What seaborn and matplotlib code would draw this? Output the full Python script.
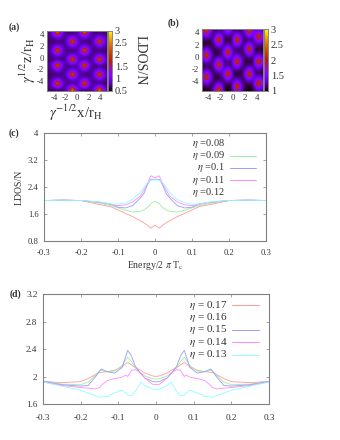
import numpy as np
import pandas as pd
import matplotlib
matplotlib.use('Agg')
import matplotlib.pyplot as plt
import seaborn as sns

# ─── Panel (a) rows: vortex sites at columns 3,12 (P) and 8,17 (Q) ────────────
P0 = [.72, .85, 1.45, 2.8, 1.45, .85, .72, .68, .68, .72, .85, 1.45, 2.8, 1.45, .85, .72, .68, .68, .68, .68]
Q0 = [.68, .68, .68, .68, .68, .72, .85, 1.45, 2.8, 1.45, .85, .72, .68, .68, .72, .85, 1.45, 2.8, 1.45, .85]
PN = [.7, .8, 1.05, 1.45, 1.05, .8, .72, .8, .85, .8, .8, 1.05, 1.45, 1.05, .8, .72, .8, .85, .8, .72]
QN = [.68, .72, .8, .85, .8, .72, .8, 1.05, 1.45, 1.05, .8, .8, .85, .8, .72, .8, 1.05, 1.45, 1.05, .8]
PQ = [.7, .8, 1.05, 1.45, 1.05, .8, .8, 1.05, 1.45, 1.05, .8, 1.05, 1.45, 1.05, .8, .8, 1.05, 1.45, 1.05, .8]
ldos_a = [P0, PN, QN, Q0, QN, PN, P0, PN, QN, Q0, PQ, P0, PN, QN, Q0, QN, PN, P0, PQ, Q0]

# ─── Panel (b) map ────────────────────────────────────────────────────────────
ldos_b = [
    [1.65, 2.6, 1.65, 1.2, 1.1, 1.2, 1.15, 1.4, 2.0, 1.4, 1.1, 1.2, 1.1, 1.2, 1.65, 2.6, 1.65, 1.25, 1.4, 1.25],
    [1.4, 2.0, 1.4, 1.15, 1.25, 1.4, 1.25, 1.25, 1.4, 1.25, 1.25, 1.4, 1.25, 1.15, 1.4, 2.0, 1.4, 1.4, 2.0, 1.4],
    [1.25, 1.4, 1.25, 1.15, 1.4, 2.0, 1.4, 1.1, 1.2, 1.1, 1.4, 2.0, 1.4, 1.15, 1.25, 1.4, 1.25, 1.65, 2.6, 1.65],
    [1.1, 1.2, 1.1, 1.2, 1.65, 2.6, 1.65, 1.03, 1.05, 1.03, 1.65, 2.6, 1.65, 1.2, 1.1, 1.2, 1.1, 1.4, 2.0, 1.4],
    [1.03, 1.05, 1.03, 1.15, 1.4, 2.0, 1.4, 1.1, 1.2, 1.1, 1.4, 2.0, 1.4, 1.15, 1.25, 1.4, 1.25, 1.25, 1.4, 1.25],
    [1.1, 1.2, 1.1, 1.1, 1.25, 1.4, 1.25, 1.25, 1.4, 1.25, 1.25, 1.4, 1.25, 1.15, 1.4, 2.0, 1.4, 1.1, 1.2, 1.1],
    [1.25, 1.4, 1.25, 1.1, 1.1, 1.2, 1.15, 1.4, 2.0, 1.4, 1.1, 1.2, 1.1, 1.2, 1.65, 2.6, 1.65, 1.03, 1.05, 1.03],
    [1.4, 2.0, 1.4, 1.15, 1.03, 1.05, 1.2, 1.65, 2.6, 1.65, 1.1, 1.2, 1.1, 1.15, 1.4, 2.0, 1.4, 1.1, 1.2, 1.1],
    [1.65, 2.6, 1.65, 1.2, 1.1, 1.2, 1.15, 1.4, 2.0, 1.4, 1.25, 1.4, 1.25, 1.1, 1.25, 1.4, 1.25, 1.25, 1.4, 1.25],
    [1.4, 2.0, 1.4, 1.15, 1.25, 1.4, 1.25, 1.25, 1.4, 1.25, 1.4, 2.0, 1.4, 1.15, 1.1, 1.2, 1.1, 1.4, 2.0, 1.4],
    [1.25, 1.4, 1.25, 1.15, 1.4, 2.0, 1.4, 1.1, 1.2, 1.1, 1.65, 2.6, 1.65, 1.2, 1.03, 1.05, 1.03, 1.65, 2.6, 1.65],
    [1.1, 1.2, 1.1, 1.2, 1.65, 2.6, 1.65, 1.1, 1.2, 1.1, 1.4, 2.0, 1.4, 1.15, 1.1, 1.2, 1.1, 1.4, 2.0, 1.4],
    [1.1, 1.2, 1.1, 1.15, 1.4, 2.0, 1.4, 1.25, 1.4, 1.25, 1.25, 1.4, 1.25, 1.1, 1.25, 1.4, 1.25, 1.25, 1.4, 1.25],
    [1.25, 1.4, 1.25, 1.1, 1.25, 1.4, 1.25, 1.4, 2.0, 1.4, 1.1, 1.2, 1.1, 1.15, 1.4, 2.0, 1.4, 1.1, 1.2, 1.1],
    [1.4, 2.0, 1.4, 1.15, 1.1, 1.2, 1.2, 1.65, 2.6, 1.65, 1.03, 1.05, 1.03, 1.2, 1.65, 2.6, 1.65, 1.1, 1.2, 1.1],
    [1.65, 2.6, 1.65, 1.2, 1.03, 1.05, 1.15, 1.4, 2.0, 1.4, 1.1, 1.2, 1.1, 1.15, 1.4, 2.0, 1.4, 1.25, 1.4, 1.25],
    [1.4, 2.0, 1.4, 1.15, 1.1, 1.2, 1.1, 1.25, 1.4, 1.25, 1.25, 1.4, 1.25, 1.1, 1.25, 1.4, 1.25, 1.4, 2.0, 1.4],
    [1.25, 1.4, 1.25, 1.1, 1.25, 1.4, 1.25, 1.1, 1.2, 1.1, 1.4, 2.0, 1.4, 1.15, 1.1, 1.2, 1.1, 1.65, 2.6, 1.65],
    [1.1, 1.2, 1.1, 1.15, 1.4, 2.0, 1.4, 1.03, 1.05, 1.03, 1.65, 2.6, 1.65, 1.2, 1.03, 1.05, 1.03, 1.4, 2.0, 1.4],
    [1.03, 1.05, 1.03, 1.2, 1.65, 2.6, 1.65, 1.02, 1.03, 1.02, 1.4, 2.0, 1.4, 1.15, 1.02, 1.03, 1.02, 1.25, 1.4, 1.25],
]

# ─── Panel (c) curves ─────────────────────────────────────────────────────────
energy_c = [-0.3, -0.25, -0.2, -0.15, -0.12, -0.1, -0.09, -0.08, -0.06, -0.04, -0.03, -0.02, -0.012, -0.01, 0,
            0.01, 0.012, 0.02, 0.03, 0.04, 0.06, 0.08, 0.09, 0.1, 0.12, 0.15, 0.2, 0.25, 0.3]
eta_008 = [2.0, 2.01, 2.0, 1.88, 1.82, 1.72, 1.67, 1.62, 1.52, 1.4, 1.34, 1.26, 1.18, 1.19, 1.27,
           1.19, 1.18, 1.26, 1.34, 1.4, 1.52, 1.62, 1.67, 1.72, 1.82, 1.88, 2.0, 2.01, 2.0]
eta_009 = [2.0, 2.01, 2.0, 1.92, 1.85, 1.78, 1.75, 1.71, 1.66, 1.68, 1.72, 1.8, 1.9, 1.92, 1.98,
           1.92, 1.9, 1.8, 1.72, 1.68, 1.66, 1.71, 1.75, 1.78, 1.85, 1.92, 2.0, 2.01, 2.0]
eta_010 = [2.0, 2.01, 2.0, 1.95, 1.9, 1.8, 1.79, 1.78, 1.85, 2.07, 2.21, 2.48, 2.62, 2.63, 2.63,
           2.63, 2.62, 2.48, 2.21, 2.07, 1.85, 1.78, 1.79, 1.8, 1.9, 1.95, 2.0, 2.01, 2.0]
eta_011 = [2.0, 2.01, 2.0, 1.95, 1.88, 1.85, 1.86, 1.87, 1.96, 2.13, 2.31, 2.51, 2.72, 2.73, 2.67,
           2.73, 2.72, 2.51, 2.31, 2.13, 1.96, 1.87, 1.86, 1.85, 1.88, 1.95, 2.0, 2.01, 2.0]
eta_012 = [2.0, 2.01, 2.0, 1.96, 1.9, 1.89, 1.91, 1.93, 2.03, 2.24, 2.39, 2.53, 2.59, 2.6, 2.61,
           2.6, 2.59, 2.53, 2.39, 2.24, 2.03, 1.93, 1.91, 1.89, 1.9, 1.96, 2.0, 2.01, 2.0]

# ─── Panel (d) curves ─────────────────────────────────────────────────────────
energy_d = [-0.3, -0.25, -0.2, -0.18, -0.16, -0.15, -0.145, -0.13, -0.11, -0.09, -0.08, -0.075, -0.065, -0.055, -0.04, -0.03, -0.01, 0,
            0.01, 0.03, 0.04, 0.055, 0.065, 0.075, 0.08, 0.09, 0.11, 0.13, 0.145, 0.15, 0.16, 0.18, 0.2, 0.25, 0.3]
eta_017 = [1.93, 1.91, 1.925, 1.97, 2.03, 2.06, 2.06, 2.07, 2.09, 2.14, 2.19, 2.2, 2.17, 2.13, 2.09, 2.05, 2.01, 2.0,
           2.01, 2.05, 2.09, 2.13, 2.17, 2.2, 2.19, 2.14, 2.09, 2.07, 2.06, 2.06, 2.03, 1.97, 1.925, 1.91, 1.93]
eta_016 = [1.93, 1.89, 1.88, 1.92, 2.02, 2.08, 2.09, 2.07, 2.08, 2.16, 2.25, 2.28, 2.22, 2.13, 2.04, 2.01, 1.97, 1.96,
           1.97, 2.01, 2.04, 2.13, 2.22, 2.28, 2.25, 2.16, 2.08, 2.07, 2.09, 2.08, 2.02, 1.92, 1.88, 1.89, 1.93]
eta_015 = [1.93, 1.88, 1.86, 1.87, 2.0, 2.08, 2.11, 2.07, 2.05, 2.13, 2.3, 2.38, 2.3, 2.15, 2.04, 1.98, 1.93, 1.92,
           1.93, 1.98, 2.04, 2.15, 2.3, 2.38, 2.3, 2.13, 2.05, 2.07, 2.11, 2.08, 2.0, 1.87, 1.86, 1.88, 1.93]
eta_014 = [1.92, 1.87, 1.84, 1.83, 1.82, 1.84, 1.87, 1.94, 1.97, 1.99, 2.02, 2.0, 2.09, 2.1, 2.05, 1.98, 1.89, 1.88,
           1.89, 1.98, 2.05, 2.1, 2.09, 2.0, 2.02, 1.99, 1.97, 1.94, 1.87, 1.84, 1.82, 1.83, 1.84, 1.87, 1.92]
eta_013 = [1.92, 1.86, 1.8, 1.76, 1.72, 1.7, 1.7, 1.71, 1.76, 1.8, 1.76, 1.73, 1.72, 1.78, 1.92, 1.87, 1.82, 1.81,
           1.82, 1.87, 1.92, 1.78, 1.72, 1.73, 1.76, 1.8, 1.76, 1.71, 1.7, 1.7, 1.72, 1.76, 1.8, 1.86, 1.92]

# ─── Labels and ticks ─────────────────────────────────────────────────────────
map_ticks = [-4, -2, 0, 2, 4]
cbar_ticks_a = [0.5, 1, 1.5, 2, 2.5, 3]
cbar_ticks_b = [1, 1.5, 2, 2.5, 3]
cbar_labels_a = ['0.5', '1', '1.5', '2', '2.5', '3']
cbar_labels_b = ['1', '1.5', '2', '2.5', '3']
energy_ticks = [-0.3, -0.2, -0.1, 0, 0.1, 0.2, 0.3]
energy_labels = ['-0.3', '-0.2', '-0.1', '0', '0.1', '0.2', '0.3']
yticks_c = [0.8, 1.6, 2.4, 3.2, 4]
ylabels_c = ['0.8', '1.6', '2.4', '3.2', '4']
yticks_d = [1.6, 2, 2.4, 2.8, 3.2]
ylabels_d = ['1.6', '2', '2.4', '2.8', '3.2']
legend_c = ['0.08', '0.09', '0.1', '0.11', '0.12']
legend_d = ['0.17', '0.16', '0.15', '0.14', '0.13']
colors = ['#ff9a9a', '#9af09a', '#9a9aff', '#ff8aff', '#8affff']

sns.set_style('white')
plt.rcParams['font.family'] = ['Liberation Serif', 'DejaVu Serif']
plt.rcParams['mathtext.fontset'] = 'stix'
plt.rcParams['axes.unicode_minus'] = False

W, H = 340, 440
TXT = '#333333'
EDGE = '#808080'
fig = plt.figure(figsize=(W / 100, H / 100), dpi=100, facecolor='white')


def box(x0, y0, x1, y1):
    # pixel box, y measured from the top
    return fig.add_axes([x0 / W, 1 - y1 / H, (x1 - x0) / W, (y1 - y0) / H])


def put(x, y, s, **kw):
    kw.setdefault('color', TXT)
    kw.setdefault('ha', 'center')
    kw.setdefault('va', 'center')
    fig.text(x / W, 1 - y / H, s, **kw)


def draw_map(data, ax, cax, vmin, vmax, cticks, clabels, cx, cy, rx, ry, cbar_size):
    data = np.array(data)
    sns.heatmap(data, ax=ax, cbar_ax=cax, cmap='gnuplot', vmin=vmin, vmax=vmax, square=False)
    # same cells again, smoothed, the way the pm3d map looks in the reference
    ax.imshow(data, cmap='gnuplot', vmin=vmin, vmax=vmax, interpolation='bicubic',
              extent=(0, data.shape[1], data.shape[0], 0), aspect='auto', zorder=3)
    ax.set_xticks([cx + v * 10 / rx for v in map_ticks])
    ax.set_xticklabels([str(v) for v in map_ticks], rotation=0, fontsize=6.3, color=TXT)
    ax.set_yticks([cy - v * 10 / ry for v in map_ticks])
    ax.set_yticklabels([str(v) for v in map_ticks], rotation=0, fontsize=6.3, color=TXT)
    ax.tick_params(length=0, pad=2)
    for s in ax.spines.values():
        s.set_visible(True)
        s.set_color(EDGE)
        s.set_linewidth(0.7)
        s.set_zorder(4)
    cax.set_yticks(cticks)
    cax.set_yticklabels(clabels, fontsize=cbar_size, color=TXT)
    cax.tick_params(length=0, pad=2)
    for s in cax.spines.values():
        s.set_visible(True)
        s.set_color(EDGE)
        s.set_linewidth(0.5)


# ─── (a) and (b) ──────────────────────────────────────────────────────────────
draw_map(ldos_a, box(47, 31, 107, 91), box(108, 31, 112, 91), 0.5, 3,
         cbar_ticks_a, cbar_labels_a, 10, 9.2, 5.25, 5.1, 7.5)
draw_map(ldos_b, box(202, 29.5, 263, 91), box(264, 29.5, 268, 91), 1, 3,
         cbar_ticks_b, cbar_labels_b, 10, 9.2, 5.05, 5.05, 7.5)
put(76, 113, r'$\gamma^{-1/2}$x/r$_{\mathrm{H}}$', fontsize=10.5)
put(28, 60, r'$\gamma^{1/2}$z/r$_{\mathrm{H}}$', fontsize=10.5, rotation=90)
put(140, 60, 'LDOS/N', fontsize=10, rotation=270)


# ─── (c) and (d) ──────────────────────────────────────────────────────────────
def draw_curves(ax, energy, series, names, ylim, yticks, ylabels, size, pad):
    df = pd.DataFrame({'Energy': energy * len(series),
                       'LDOS': sum(series, []),
                       'eta': sum([[n] * len(energy) for n in names], [])})
    sns.lineplot(data=df, x='Energy', y='LDOS', hue='eta', hue_order=names, palette=colors,
                 ax=ax, legend=False, estimator=None, linewidth=0.6)
    ax.set_xlim(-0.3, 0.3)
    ax.set_ylim(*ylim)
    ax.set_xticks(energy_ticks)
    ax.set_xticklabels(energy_labels, fontsize=size, color=TXT)
    ax.set_yticks(yticks)
    ax.set_yticklabels(ylabels, fontsize=size, color=TXT)
    ax.tick_params(direction='in', length=2.5, width=0.5, color=EDGE, top=True, right=True,
                   bottom=True, left=True)
    ax.tick_params(axis='x', pad=pad)
    ax.tick_params(axis='y', pad=4)
    ax.set_xlabel('')
    ax.set_ylabel('')
    for s in ax.spines.values():
        s.set_color(EDGE)
        s.set_linewidth(0.8)


ax_c = box(44, 133, 266, 241)
draw_curves(ax_c, energy_c, [eta_008, eta_009, eta_010, eta_011, eta_012], legend_c,
            (0.8, 4), yticks_c, ylabels_c, 6.2, 5.5)
ax_d = box(43, 294, 269, 404)
draw_curves(ax_d, energy_d, [eta_017, eta_016, eta_015, eta_014, eta_013], legend_d,
            (1.6, 3.2), yticks_d, ylabels_d, 6.6, 7)

put(19, 187, 'LDOS/N', fontsize=7, rotation=90)
put(155, 265, r'Energy/2 $\pi$ T$_{\mathrm{c}}$', fontsize=7)

# ─── Legends ──────────────────────────────────────────────────────────────────
rows_c = [143.3, 155.7, 167.7, 180, 192.3]
for y, name, col, show in zip(rows_c, legend_c, colors, [False, True, True, True, False]):
    put(225, y, r'$\eta$ =' + name, fontsize=7.5, ha='right')
    if show:
        fig.add_artist(plt.Line2D([230 / W, 255.7 / W], [1 - y / H] * 2, color=col, lw=0.7))

rows_d = [305, 317.3, 329.7, 342.3, 354.7]
for y, name, col, show in zip(rows_d, legend_d, colors, [True, False, True, True, True]):
    put(227, y, r'$\eta$ = ' + name, fontsize=8, ha='right')
    if show:
        fig.add_artist(plt.Line2D([232 / W, 258.7 / W], [1 - y / H] * 2, color=col, lw=0.7))

# ─── Panel letters ────────────────────────────────────────────────────────────
put(14, 27, '(a)', fontsize=7, fontweight='bold')
put(174, 23, '(b)', fontsize=7, fontweight='bold')
put(14, 133, '(c)', fontsize=7, fontweight='bold')
put(15, 294, '(d)', fontsize=7, fontweight='bold')

fig.savefig('out.png', dpi=100)
